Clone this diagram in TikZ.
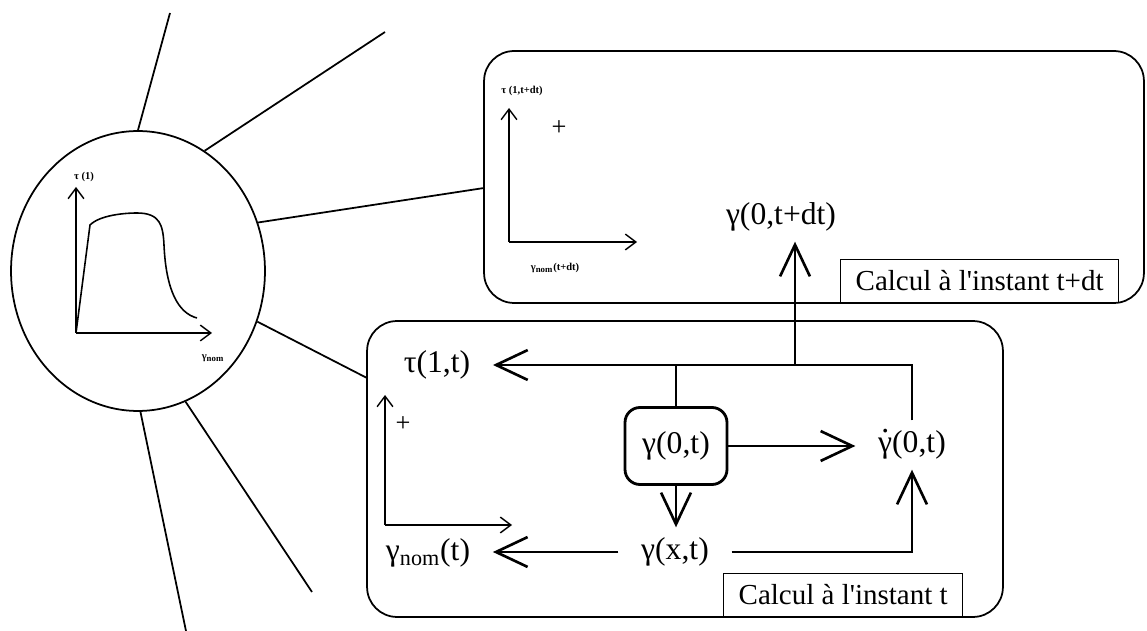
\documentclass[tikz,border=0pt]{standalone}
\usepackage{fontspec}
\setmainfont{Liberation Serif}
\usetikzlibrary{arrows.meta,positioning,shapes.geometric,calc}

\newcommand{\gdot}{\ooalign{γ\cr\hidewidth\raisebox{0.62em}{.}\hidewidth\cr}}

\begin{document}
\begin{tikzpicture}[
    x=0.02cm, y=-0.02cm,
    panel/.style={rectangle, draw=black, line width=1pt, rounded corners=0.6cm, inner sep=0pt},
    caption/.style={rectangle, draw=black, line width=0.8pt, inner xsep=0.3cm, minimum height=0.86cm, font=\fontsize{16.5}{18}\selectfont},
    quantity/.style={inner xsep=0.45cm, inner ysep=0.2cm, font=\fontsize{18}{20}\selectfont},
    state/.style={rectangle, draw=black, line width=1.6pt, rounded corners=0.3cm, minimum width=2.04cm, minimum height=1.54cm, font=\fontsize{18}{20}\selectfont},
    flow/.style={line width=1.5pt, -{Straight Barb[length=18pt, width=17pt]}},
    link/.style={line width=1.5pt},
    axis/.style={line width=0.8pt, -{Straight Barb[length=6pt, width=9pt]}},
    ray/.style={line width=1pt},
    tiny/.style={font=\fontsize{6}{7}\selectfont\bfseries, inner sep=1pt},
    plussign/.style={font=\fontsize{15}{16}\selectfont, inner sep=0pt}
]
    \useasboundingbox (0,0) rectangle (1147,631);

    % Curve sketch in the disc
    \node[ellipse, draw=black, line width=1pt, minimum width=5.08cm, minimum height=5.6cm, inner sep=0pt] (disc) at (138,271) {};
    \coordinate (o1) at (76,333);
    \coordinate (y1) at (76,187);
    \coordinate (x1) at (212,333);
    \draw[axis] (o1) -- (y1);
    \draw[axis] (o1) -- (x1);
    \draw[line width=0.9pt] (o1) -- (90,225) .. controls (100,215) and (125,213) .. (137,213)
        .. controls (160,213) and (163,225) .. (164,245)
        .. controls (166,290) and (178,313) .. (197,318);
    \node[tiny] (ylab1) at (84,177) {τ (1)};
    \node[tiny] (xlab1) at (213,358) {γ\textsubscript{nom}};

    % Rays from the disc
    \coordinate (ray1) at (170,13);
    \coordinate (ray2) at (385,32);
    \coordinate (ray3) at (484,188);
    \coordinate (ray4) at (367,378);
    \coordinate (ray5) at (186,631);
    \coordinate (ray6) at (312,592);
    \draw[ray] (disc.90) -- (ray1);
    \draw[ray] (disc.61) -- (ray2);
    \draw[ray] (disc.22) -- (ray3);
    \draw[ray] (disc.-23) -- (ray4);
    \draw[ray] (disc.-89) -- (ray5);
    \draw[ray] (disc.-70) -- (ray6);

    % Panels
    \node[panel, minimum width=13.2cm, minimum height=5.04cm] (toppanel) at (814,177) {};
    \node[panel, minimum width=12.72cm, minimum height=5.92cm] (lowpanel) at (685,469) {};
    \node[caption, anchor=south west] (nextcap) at (840,303) {Calcul à l\textquotesingle instant t+dt};
    \node[caption, anchor=south west] (nowcap) at (723,617) {Calcul à l\textquotesingle instant t};

    % Plot at t+dt
    \coordinate (o2) at (509,242);
    \coordinate (y2) at (509,108);
    \coordinate (x2) at (637,242);
    \draw[axis] (o2) -- (y2);
    \draw[axis] (o2) -- (x2);
    \node[tiny] (ylab2) at (522,91) {τ (1,t+dt)};
    \node[tiny] (xlab2) at (555,268) {γ\textsubscript{nom}(t+dt)};
    \node[plussign] (pt2) at (559,128) {+};

    % Plot at t
    \coordinate (o3) at (385,525);
    \coordinate (y3) at (385,395);
    \coordinate (x3) at (512,525);
    \draw[axis] (o3) -- (y3);
    \draw[axis] (o3) -- (x3);
    \node[plussign] (pt3) at (403,424) {+};

    % Quantities
    \node[quantity] (tau) at (437,365) {τ(1,t)};
    \node[state] (now) at (676,446) {γ(0,t)};
    \node[quantity] (rate) at (912,445) {\gdot(0,t)};
    \node[quantity] (field) at (675,552) {γ(x,t)};
    \node[quantity] (nom) at (428,553) {γ\textsubscript{nom}(t)};
    \node[quantity] (next) at (781,217) {γ(0,t+dt)};

    % Connections
    \coordinate (up) at (795,365);
    \draw[flow] (rate.north) |- (tau.east);
    \draw[link] (now.north) -- (now.north |- tau.east);
    \draw[flow] (up) -- (up |- next.south);
    \draw[flow] (now.east) -- (now.east -| rate.west);
    \draw[flow] (now.south) -- (now.south |- field.north);
    \draw[flow] (field.west) -- (field.west -| nom.east);
    \draw[flow] (field.east) -| (rate.south);
\end{tikzpicture}
\end{document}
